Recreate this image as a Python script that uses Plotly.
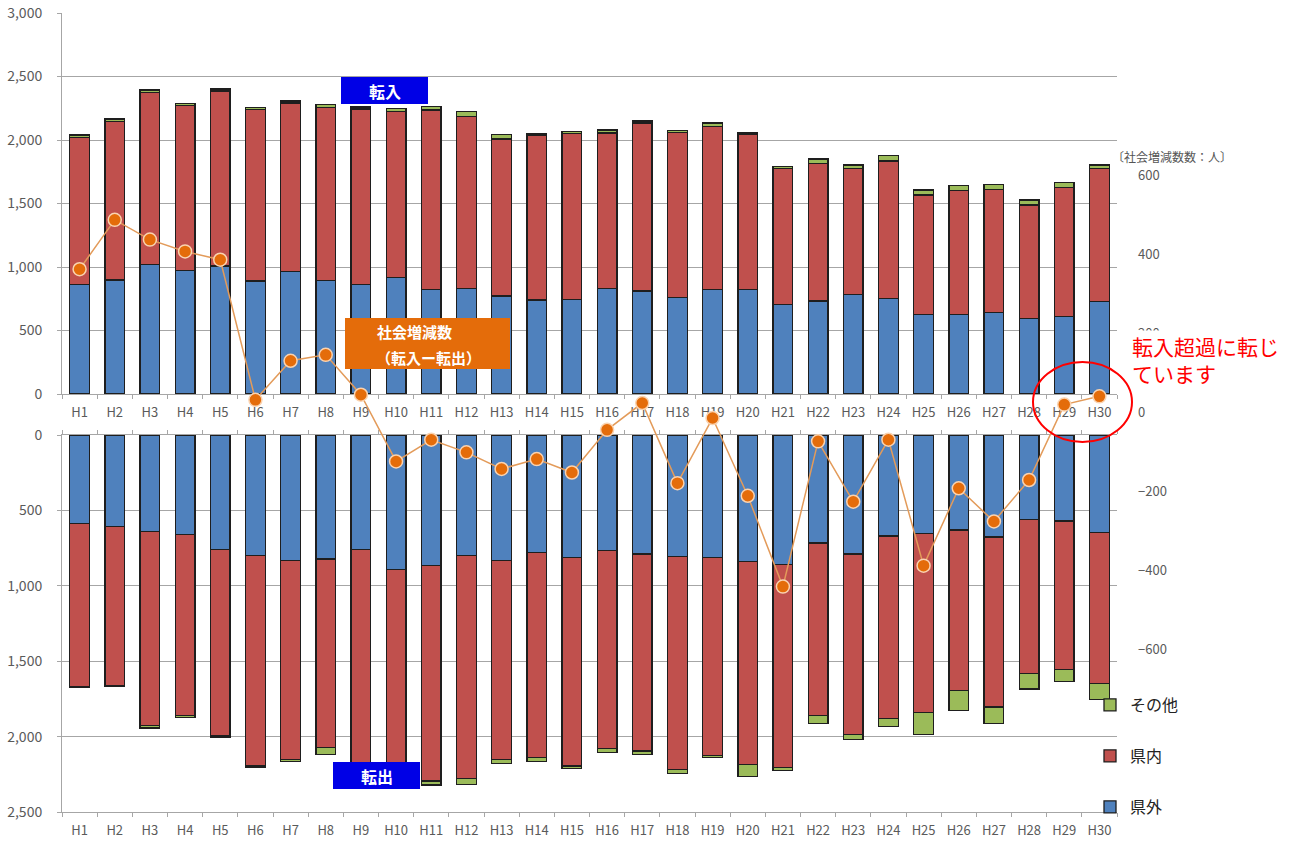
import plotly.graph_objects as go

years = [f"H{i}" for i in range(1, 31)]

# 転入 (moving in)
in_kengai = [865, 898, 1021, 971, 1008, 890, 963, 892, 864, 919, 824, 832, 772, 740, 745,
             832, 811, 758, 824, 824, 706, 732, 785, 753, 627, 627, 643, 596, 609, 727]
in_kennai = [1154, 1249, 1353, 1300, 1379, 1352, 1329, 1366, 1381, 1305, 1413, 1351, 1236, 1295, 1308,
             1222, 1324, 1303, 1280, 1224, 1069, 1083, 993, 1081, 940, 973, 968, 892, 1015, 1046]
in_other = [20, 18, 20, 18, 15, 12, 15, 20, 15, 25, 25, 40, 34, 12, 12,
            25, 15, 15, 30, 12, 15, 35, 25, 42, 39, 40, 40, 40, 40, 30]

# 転出 (moving out)
out_kengai = [585, 607, 640, 662, 761, 801, 832, 823, 761, 894, 865, 799, 832, 777, 812,
              768, 790, 805, 810, 838, 861, 717, 790, 669, 651, 629, 677, 558, 571, 647]
out_kennai = [1081, 1052, 1286, 1198, 1231, 1394, 1319, 1251, 1419, 1436, 1430, 1480, 1319, 1363, 1383,
              1311, 1306, 1413, 1313, 1347, 1346, 1143, 1196, 1213, 1191, 1063, 1126, 1024, 985, 1003]
out_other = [9, 11, 16, 11, 11, 12, 16, 44, 15, 15, 26, 38, 27, 27, 18,
             28, 22, 26, 17, 81, 17, 53, 33, 49, 144, 135, 112, 102, 79, 104]

# 社会増減数
net = [363, 488, 438, 408, 387, 32, 131, 146, 45, -124, -69, -101, -143, -118, -152,
       -44, 24, -179, -14, -211, -441, -73, -226, -69, -388, -192, -276, -171, 20, 41]

left_ticks_top = [0, 500, 1000, 1500, 2000, 2500, 3000]
left_ticks_bot = [0, 500, 1000, 1500, 2000, 2500]
right_ticks = [-600, -400, -200, 0, 200, 400, 600]

C_BLUE = "#4F81BD"
C_RED = "#C0504D"
C_GREEN = "#9BBB59"
EDGE = dict(color="#1E1E1E", width=1.3)
FONT = "Noto Sans CJK JP"
TICKC = "#5A5A5A"
GRID = "#A6A6A6"

# pixel helpers (plot area: x 62..1117, y 13..812)
L, R, T, B = 62, 1117, 13, 812
W, H = R - L, B - T
def px(x):
    return (x - L) / W
def py(y):
    return (B - y) / H

fig = go.Figure()

# top panel bars
for vals, col, name in [(in_kengai, C_BLUE, "県外"), (in_kennai, C_RED, "県内"), (in_other, C_GREEN, "その他")]:
    fig.add_trace(go.Bar(x=years, y=vals, name=name, marker=dict(color=col, line=EDGE),
                         xaxis="x", yaxis="y", showlegend=False))

# bottom panel bars (legend entries)
legmap = {"県外": "legend3", "県内": "legend2", "その他": "legend"}
for vals, col, name in [(out_kengai, C_BLUE, "県外"), (out_kennai, C_RED, "県内"), (out_other, C_GREEN, "その他")]:
    fig.add_trace(go.Bar(x=years, y=vals, name=name, marker=dict(color=col, line=EDGE),
                         xaxis="x2", yaxis="y2", showlegend=True, legend=legmap[name]))

# line (社会増減数)
fig.add_trace(go.Scatter(x=years, y=net, mode="lines+markers", name="社会増減数",
                         line=dict(color="#E39B5A", width=1.5),
                         marker=dict(size=13, color="#E46C0A", line=dict(color="#FAD3B0", width=1.5)),
                         xaxis="x3", yaxis="y3", showlegend=False))

top_dom = [py(394), 1.0]
bot_dom = [0.0, py(435)]

xcommon = dict(type="category", categoryorder="array", categoryarray=years, range=[-0.5, 29.5],
               showline=True, linecolor=GRID, linewidth=1, ticks="outside", tickson="boundaries",
               ticklen=4, tickcolor=GRID, tickfont=dict(family=FONT, size=13, color=TICKC),
               ticklabelstandoff=6,
               showgrid=False, zeroline=False, fixedrange=True, automargin=False)

ycommon = dict(tickformat=",", showgrid=True, gridcolor=GRID, gridwidth=1, zeroline=False,
               showline=True, linecolor=GRID, ticks="outside", ticklen=4, tickcolor=GRID,
               tickfont=dict(family=FONT, size=14, color=TICKC), ticklabelstandoff=12,
               automargin=False, fixedrange=True)

fig.update_layout(
    template="none",
    width=1301, height=841,
    margin=dict(l=L, r=1301 - R, t=T, b=841 - B, autoexpand=False),
    paper_bgcolor="white", plot_bgcolor="rgba(0,0,0,0)",
    barmode="stack", bargap=0.44,
    font=dict(family=FONT, color=TICKC),
    xaxis=dict(domain=[0, 1], anchor="y", **xcommon),
    yaxis=dict(domain=top_dom, anchor="x", range=[0, 3000], tickvals=left_ticks_top, **ycommon),
    xaxis2=dict(domain=[0, 1], anchor="y2", mirror="ticks", **xcommon),
    yaxis2=dict(domain=bot_dom, anchor="x2", range=[2500, 0], tickvals=left_ticks_bot, **ycommon),
    xaxis3=dict(domain=[0, 1], anchor="y3", type="category", categoryorder="array",
                categoryarray=years, range=[-0.5, 29.5], visible=False, fixedrange=True, automargin=False),
    yaxis3=dict(domain=[0, 1], anchor="x3", side="right", range=[-1012, 1012], tickvals=right_ticks,
                showgrid=False, zeroline=False, showline=False, ticks="",
                tickfont=dict(family=FONT, size=13, color=TICKC), ticklabelstandoff=20,
                automargin=False, fixedrange=True),
)

legcommon = dict(xanchor="left", yanchor="middle", bgcolor="rgba(0,0,0,0)", borderwidth=0,
                 font=dict(family=FONT, size=16, color="#222222"), itemwidth=30)
fig.update_layout(
    legend=dict(x=px(1090), y=py(705), **legcommon),
    legend2=dict(x=px(1090), y=py(756), **legcommon),
    legend3=dict(x=px(1090), y=py(807), **legcommon),
)

shapes = []
annotations = []

def label_box(x0, x1, y0, y1, color, lines, size):
    shapes.append(dict(type="rect", xref="paper", yref="paper", x0=px(x0), x1=px(x1),
                       y0=py(y1), y1=py(y0), fillcolor=color, line=dict(width=0), layer="above"))
    for (tx, ty, txt) in lines:
        annotations.append(dict(xref="paper", yref="paper", x=px(tx), y=py(ty), text=f"<b>{txt}</b>",
                                showarrow=False, xanchor="center", yanchor="middle",
                                font=dict(family=FONT, size=size, color="white")))

label_box(341, 428, 77, 104, "#0000E6", [(384.5, 90.5, "転入")], 16)
label_box(333, 420, 762, 789, "#0000E6", [(376.5, 775.5, "転出")], 16)
label_box(345, 510, 318, 369, "#E46C0A", [(414, 332, "社会増減数"), (428, 358, "（転入ー転出）")], 15)

# red callout
shapes.append(dict(type="circle", xref="paper", yref="paper", x0=px(1033), x1=px(1132),
                   y0=py(442), y1=py(362), line=dict(color="#FF0000", width=2)))
annotations.append(dict(xref="paper", yref="paper", x=px(1131), y=py(360), xanchor="left", yanchor="middle",
                        align="left", showarrow=False, text="転入超過に転じ<br>ています",
                        bgcolor="white", borderpad=0,
                        font=dict(family=FONT, size=21, color="#FF0000")))

# right axis unit title
annotations.append(dict(xref="paper", yref="paper", x=px(1110), y=py(156), xanchor="left", yanchor="middle",
                        showarrow=False, text="〔社会増減数数：人〕",
                        font=dict(family=FONT, size=12, color="#555555")))

fig.update_layout(shapes=shapes, annotations=annotations)

fig.write_html("out.html")
